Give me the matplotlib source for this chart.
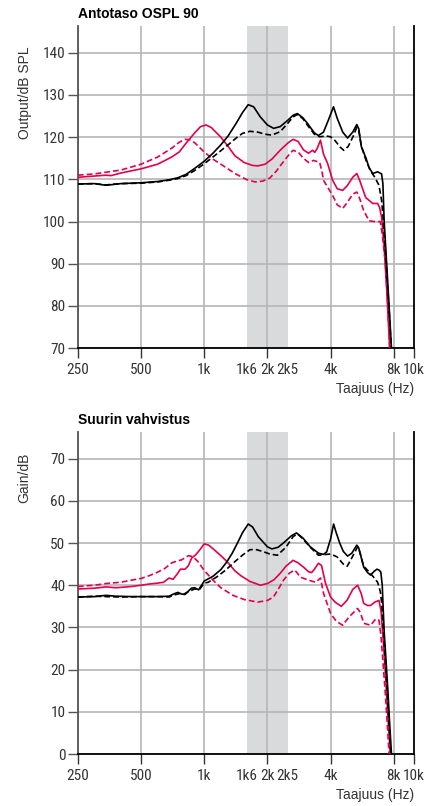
import numpy as np
import matplotlib
matplotlib.use("Agg")
import matplotlib.pyplot as plt
from matplotlib import font_manager as fm
from matplotlib.ticker import FixedLocator, FixedFormatter

plt.rcParams['font.family'] = ['Liberation Sans', 'DejaVu Sans']

# pick a narrow face for the tick labels if one is installed
names = {f.name for f in fm.fontManager.ttflist}
tick_font = dict(family='Liberation Sans', stretch='normal')
for n in ['Liberation Sans Narrow', 'Roboto Condensed', 'Noto Sans Condensed',
          'Open Sans Condensed', 'DejaVu Sans Condensed']:
    if n in names:
        tick_font = dict(family=n, stretch='normal')
        break
else:
    for f in fm.fontManager.ttflist:
        if f.name in ('Noto Sans', 'Roboto', 'DejaVu Sans') and f.stretch in ('condensed', 'semi-condensed'):
            tick_font = dict(family=f.name, stretch=f.stretch)
            break

RED = '#e5004c'
GRID = '#b5b5b5'
SHADE = '#d9dadc'

# x ticks
tick_freqs  = [250, 500, 1000, 2000, 4000, 8000, 10000]
tick_labels = ['250', '500', '1k', '2k', '4k', '8k', '10k']
minor_freqs  = [1600, 2500]
minor_labels = ['1k6', '2k5']
band = (1600, 2500)

# --- Antotaso OSPL 90 ---
ospl_black_f = [250, 300, 340, 400, 500, 600, 680, 750, 820, 900, 1000, 1100, 1200, 1300,
                1420, 1520, 1620, 1720, 1850, 2000, 2140, 2300, 2500, 2650, 2780, 2950,
                3100, 3350, 3500, 3700, 3900, 4130, 4300, 4570, 4820, 5100, 5330, 5450,
                5600, 5900, 6100, 6350, 6700, 7000, 7100, 7200, 7400, 7600, 7800]
ospl_black = [108.9, 109.0, 108.6, 109.0, 109.2, 109.5, 109.9, 110.4, 111.2, 112.6, 114.3,
              116.2, 118.2, 120.3, 123.3, 125.8, 127.7, 127.2, 124.8, 122.9, 122.1, 122.5,
              124.0, 125.2, 125.6, 124.6, 123.3, 121.0, 120.4, 121.2, 124.0, 127.2, 124.5,
              121.2, 119.8, 121.2, 123.0, 122.0, 117.8, 115.0, 112.8, 111.4, 111.8, 111.3,
              109.0, 100.0, 90.0, 80.0, 70.0]

ospl_black_d_f = [250, 300, 340, 400, 500, 600, 680, 750, 820, 900, 1000, 1100, 1200, 1300,
                  1420, 1520, 1650, 1800, 1950, 2100, 2300, 2500, 2650, 2780, 2950, 3150,
                  3350, 3550, 3800, 4000, 4200, 4450, 4620, 4850, 5100, 5330, 5450, 5600,
                  5900, 6200, 6500, 6800, 7000, 7100, 7250, 7400, 7600, 7780]
ospl_black_d = [108.9, 109.0, 108.7, 109.0, 109.1, 109.4, 109.8, 110.2, 110.9, 112.1, 113.7,
                115.3, 116.8, 118.2, 119.8, 120.9, 121.4, 121.2, 120.7, 120.5, 121.3, 123.3,
                124.8, 125.4, 124.4, 122.4, 120.7, 120.1, 120.3, 120.1, 119.2, 117.6, 116.9,
                117.8, 120.0, 122.3, 121.5, 118.0, 114.5, 112.0, 110.5, 108.6, 105.0, 101.5,
                95.0, 88.0, 79.0, 70.0]

ospl_red_f = [250, 300, 340, 360, 400, 500, 600, 700, 760, 820, 900, 960, 1020, 1080, 1200,
              1300, 1400, 1550, 1700, 1800, 1950, 2100, 2300, 2500, 2650, 2800, 2970, 3140,
              3280, 3360, 3450, 3580, 3700, 3870, 4090, 4300, 4565, 4800, 5100, 5330, 5500,
              5880, 6350, 6700, 6850, 7000, 7200, 7400, 7650]
ospl_red = [110.5, 110.8, 111.0, 110.9, 111.5, 112.5, 113.6, 115.3, 116.5, 118.6, 121.0,
            122.5, 122.9, 122.3, 120.0, 117.8, 115.6, 114.0, 113.3, 113.2, 113.6, 114.8,
            116.9, 118.6, 119.5, 119.0, 117.0, 116.2, 116.9, 116.4, 117.3, 119.3, 116.0,
            113.8, 109.8, 107.8, 107.4, 108.5, 110.5, 111.4, 109.8, 105.7, 104.3, 104.3,
            103.3, 101.0, 94.0, 84.0, 70.0]

ospl_red_d_f = [250, 300, 340, 400, 500, 600, 700, 760, 810, 850, 900, 1000, 1100, 1200,
                1400, 1600, 1750, 1900, 2050, 2200, 2350, 2500, 2650, 2800, 2970, 3140, 3320,
                3550, 3650, 3700, 4090, 4300, 4565, 4800, 5100, 5330, 5500, 5750, 6100,
                6500, 6900, 7050, 7300, 7500, 7650]
ospl_red_d = [111.0, 111.3, 111.7, 112.2, 113.6, 115.3, 117.4, 118.8, 119.5, 119.4, 118.7,
              116.5, 114.8, 113.6, 111.4, 109.9, 109.4, 109.6, 110.3, 111.9, 113.8, 115.5,
              116.9, 116.5, 115.0, 114.0, 114.5, 114.0, 111.5, 109.8, 106.2, 104.0, 103.1,
              104.5, 106.5, 107.0, 105.5, 102.6, 100.2, 100.0, 100.0, 97.0, 90.0, 80.0, 70.0]

# --- Suurin vahvistus ---
gain_black_f = [250, 300, 340, 380, 450, 500, 600, 680, 720, 750, 780, 810, 840, 870, 900,
                940, 1000, 1100, 1200, 1280, 1360, 1450, 1520, 1620, 1700, 1810, 2000, 2100,
                2250, 2410, 2600, 2750, 2950, 3200, 3500, 3700, 3830, 4000, 4135, 4250, 4420,
                4600, 4820, 5050, 5330, 5450, 5750, 6000, 6200, 6450, 6650, 6800, 6940, 7050,
                7100, 7200, 7350, 7500, 7650, 7800]
gain_black = [37.2, 37.3, 37.6, 37.4, 37.3, 37.3, 37.3, 37.4, 38.0, 38.3, 37.9, 37.8, 38.6,
              39.3, 39.4, 38.9, 41.0, 42.1, 43.7, 45.5, 47.6, 50.3, 52.4, 54.5, 53.8, 51.5,
              49.1, 48.6, 49.0, 50.2, 51.7, 52.4, 51.2, 49.1, 47.6, 47.3, 47.9, 51.0, 54.5,
              52.5, 50.0, 48.0, 46.9, 47.6, 49.5, 48.8, 44.3, 43.0, 42.4, 43.3, 43.8, 43.6,
              43.1, 40.0, 36.0, 29.0, 22.0, 15.0, 7.0, 0.0]

gain_black_d_f = [250, 300, 340, 400, 500, 600, 680, 720, 760, 800, 850, 900, 950, 1000,
                  1045, 1150, 1266, 1400, 1519, 1650, 1750, 1900, 2050, 2230, 2450, 2650,
                  2780, 2950, 3200, 3500, 3800, 4000, 4300, 4600, 4800, 5050, 5380, 5500,
                  5750, 6200, 6700, 6900, 7000, 7150, 7300, 7500, 7750]
gain_black_d = [37.2, 37.4, 37.3, 37.2, 37.3, 37.3, 37.2, 37.7, 38.0, 37.9, 38.6, 39.1, 39.0,
                40.5, 40.7, 42.0, 43.6, 45.6, 47.1, 48.4, 48.5, 48.0, 47.4, 47.1, 49.0, 51.5,
                52.2, 51.0, 49.0, 47.1, 47.3, 47.4, 46.7, 45.0, 44.5, 46.5, 49.1, 48.0, 44.5,
                42.8, 40.7, 38.5, 36.0, 29.0, 22.0, 12.0, 0.0]

gain_red_f = [250, 300, 340, 380, 450, 500, 550, 600, 640, 680, 710, 740, 770, 810, 840, 870,
              910, 950, 1000, 1050, 1110, 1200, 1290, 1400, 1500, 1650, 1850, 2000, 2150,
              2300, 2450, 2650, 2800, 2970, 3140, 3250, 3350, 3500, 3620, 3780, 4000, 4200,
              4500, 4800, 5100, 5380, 5600, 5750, 6000, 6200, 6500, 6800, 6950, 7100, 7300,
              7500, 7700]
gain_red = [39.1, 39.3, 39.6, 39.4, 39.7, 40.0, 40.3, 40.5, 40.7, 41.7, 41.4, 42.5, 43.8,
            43.8, 44.6, 46.4, 47.2, 48.3, 49.8, 49.5, 48.5, 47.0, 45.5, 43.4, 42.2, 40.9,
            40.0, 40.4, 41.3, 42.8, 44.5, 45.9, 45.3, 44.3, 43.2, 43.0, 43.8, 45.2, 44.7,
            40.5, 37.2, 36.0, 35.0, 36.5, 39.0, 40.0, 38.0, 35.7, 35.2, 35.2, 36.0, 36.4,
            34.0, 28.0, 19.0, 9.0, 0.0]

gain_red_d_f = [250, 300, 340, 400, 450, 500, 550, 600, 650, 700, 750, 780, 840, 880, 930,
                1000, 1100, 1200, 1370, 1550, 1800, 2000, 2136, 2250, 2385, 2550, 2700, 2876,
                3140, 3400, 3580, 3700, 4000, 4250, 4565, 4900, 5380, 5550, 5750, 6200, 6560,
                6800, 6950, 7100, 7300, 7450, 7600]
gain_red_d = [39.7, 40.0, 40.4, 40.7, 41.2, 41.6, 42.3, 43.1, 44.0, 45.3, 45.8, 46.0, 47.0,
              46.8, 45.7, 43.5, 41.2, 39.4, 37.6, 36.6, 36.0, 36.4, 37.2, 39.0, 41.2, 42.9,
              43.6, 41.9, 41.2, 40.7, 41.7, 38.1, 33.3, 31.5, 30.5, 32.5, 34.5, 33.5, 31.0,
              30.5, 32.0, 31.7, 28.0, 22.0, 14.0, 7.0, 0.0]


def style_axes(ax, ylim, yticks, title, ylabel):
    ax.set_xscale('log')
    ax.set_xlim(250, 10000)
    ax.set_ylim(*ylim)
    ax.axvspan(band[0], band[1], color=SHADE, lw=0, zorder=0)

    ax.xaxis.set_major_locator(FixedLocator(tick_freqs))
    ax.xaxis.set_major_formatter(FixedFormatter(tick_labels))
    ax.xaxis.set_minor_locator(FixedLocator(minor_freqs))
    ax.xaxis.set_minor_formatter(FixedFormatter(minor_labels))
    ax.set_yticks(yticks)

    ax.tick_params(axis='x', which='major', length=7, width=1.0, color='#333333',
                   pad=4, labelcolor='#333333')
    ax.tick_params(axis='x', which='minor', length=0, pad=11, labelcolor='#333333')
    ax.tick_params(axis='y', length=7, width=1.0, color='#555555', pad=2,
                   labelcolor='#333333')
    for lab in ax.get_xticklabels(which='both') + ax.get_yticklabels():
        lab.set_fontsize(11)
        lab.set_family(tick_font['family'])
        lab.set_stretch(tick_font['stretch'])

    for f in tick_freqs[:-1]:
        ax.axvline(f, color=GRID, lw=1.2, zorder=1)
    for v in yticks:
        ax.axhline(v, color=GRID, lw=1.2, zorder=1)

    ax.spines['top'].set_visible(False)
    ax.spines['left'].set_color('#555555')
    ax.spines['left'].set_linewidth(1.3)
    ax.spines['bottom'].set_color('black')
    ax.spines['bottom'].set_linewidth(1.3)
    ax.spines['right'].set_color('black')
    ax.spines['right'].set_linewidth(1.3)

    ax.text(0.0, 1.037, title, transform=ax.transAxes, ha='left', va='center',
            fontsize=10, fontweight='bold')
    ax.text(-0.158, 0.935, ylabel, transform=ax.transAxes, ha='center', va='top',
            rotation=90, fontsize=10, color='#333333')
    ax.text(1.0, -0.127, 'Taajuus (Hz)', transform=ax.transAxes, ha='right',
            va='center', fontsize=10, color='#333333')


fig = plt.figure(figsize=(4.35, 8.06), dpi=100)
ax1 = fig.add_axes([0.179, 0.568, 0.773, 0.4])
ax2 = fig.add_axes([0.179, 0.0645, 0.773, 0.4])

style_axes(ax1, (70, 146.4), [70, 80, 90, 100, 110, 120, 130, 140],
           'Antotaso OSPL 90', 'Output/dB SPL')
style_axes(ax2, (0, 76.4), [0, 10, 20, 30, 40, 50, 60, 70],
           'Suurin vahvistus', 'Gain/dB')

dash = (0, (3.5, 1.8))
lw = 1.2
ax1.plot(ospl_red_d_f, ospl_red_d, color=RED, lw=lw, ls=dash, zorder=3)
ax1.plot(ospl_red_f, ospl_red, color=RED, lw=lw, zorder=3)
ax1.plot(ospl_black_d_f, ospl_black_d, color='black', lw=lw, ls=dash, zorder=4)
ax1.plot(ospl_black_f, ospl_black, color='black', lw=lw, zorder=4)

ax2.plot(gain_red_d_f, gain_red_d, color=RED, lw=lw, ls=dash, zorder=3)
ax2.plot(gain_red_f, gain_red, color=RED, lw=lw, zorder=3)
ax2.plot(gain_black_d_f, gain_black_d, color='black', lw=lw, ls=dash, zorder=4)
ax2.plot(gain_black_f, gain_black, color='black', lw=lw, zorder=4)

fig.savefig('out.png', dpi=100)
